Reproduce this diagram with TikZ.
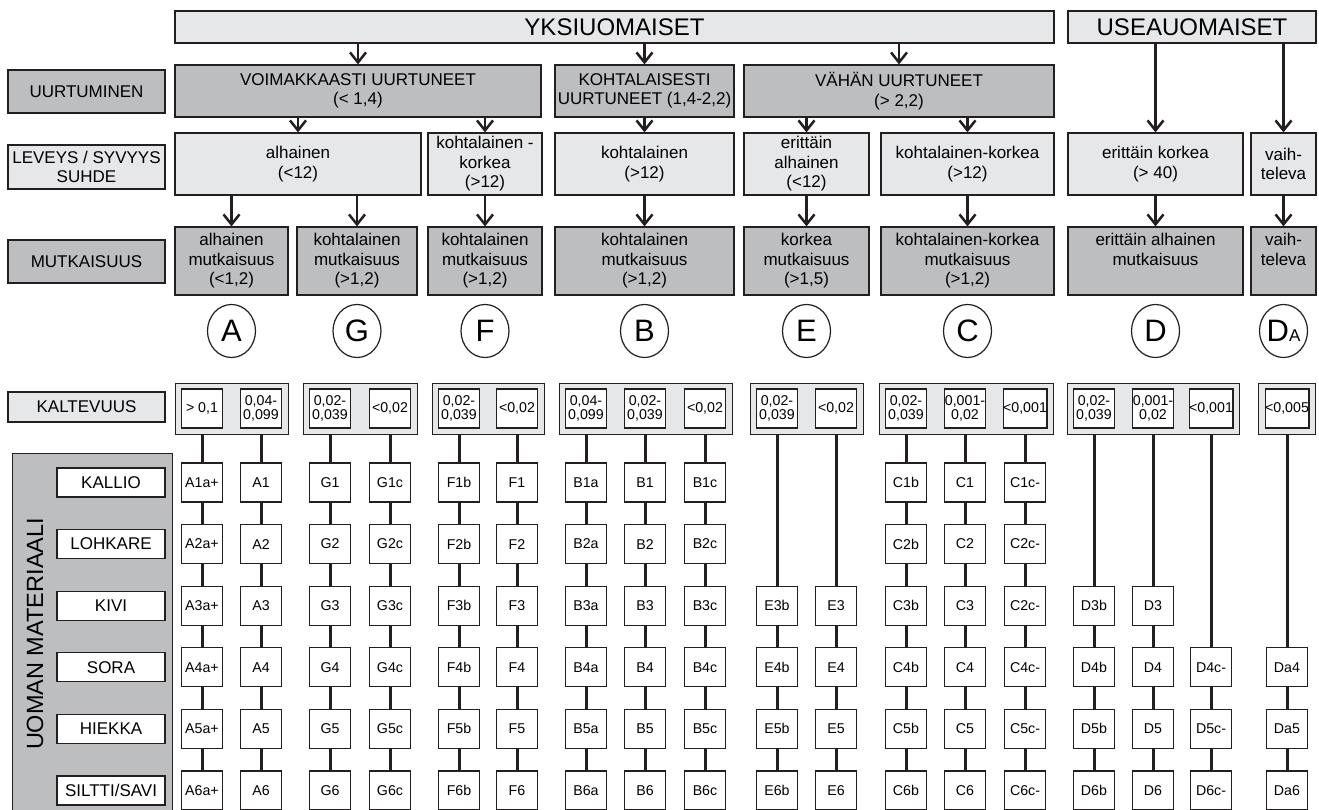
\documentclass[tikz,border=0pt]{standalone}
\usepackage{fontspec}
\setmainfont{Liberation Sans}
\usetikzlibrary{arrows.meta, shapes.geometric, fit, backgrounds}
\definecolor{cdark}{HTML}{BCBEC0}
\definecolor{clight}{HTML}{E6E7E8}
\definecolor{cline}{HTML}{231F20}
\tikzset{
  every picture/.style={line width=1.2pt},
  box/.style={draw=cline, fill=#1, align=center, inner sep=1pt, font=\fontsize{17}{19.5}\selectfont},
  box/.default=clight,
  title/.style={box, font=\fontsize{24}{26}\selectfont},
  side/.style={box=#1, minimum width=157pt},
  side/.default=clight,
  cell/.style={draw=cline, fill=white, minimum width=41pt, minimum height=39pt, inner sep=0pt, align=center, font=\fontsize{14.2}{14}\selectfont},
  matlbl/.style={draw=cline, fill=white, minimum width=108pt, minimum height=29pt, inner sep=0pt, font=\fontsize{17}{18}\selectfont},
  grp/.style={draw=cline, fill=clight, inner xsep=6pt, inner ysep=5.5pt},
  letter/.style={ellipse, draw=cline, minimum width=48pt, minimum height=53pt, inner sep=0pt, font=\fontsize{31}{31}\selectfont},
  arr/.style={draw=cline, line width=2.5pt, -{Straight Barb[length=10pt, width=16pt]}},
  link/.style={draw=cline, line width=3pt},
}

\begin{document}
\begin{tikzpicture}[x=1pt, y=-1pt]
  \useasboundingbox (0,0) rectangle (1319,810);
  \clip (0,0) rectangle (1319,810);
  % channel type
  \node[title, minimum width=879pt, minimum height=32pt] (yksi) at (614.5,27) {YKSIUOMAISET};
  \node[title, minimum width=248pt, minimum height=32pt] (usea) at (1192,27) {USEAUOMAISET};
  % row labels
  \node[side=cdark, minimum height=43pt] (uurt) at (86.5,91.5) {UURTUMINEN};
  \node[side, minimum height=44pt] (levs) at (86.5,167) {LEVEYS / SYVYYS\\SUHDE};
  \node[side=cdark, minimum height=43pt] (mutk) at (86.5,261.5) {MUTKAISUUS};
  \node[side, minimum height=30pt] (kalt) at (86.5,407) {KALTEVUUS};
  % incision
  \node[box=cdark, minimum width=366pt, minimum height=52pt] (voim) at (358,91) {VOIMAKKAASTI UURTUNEET\\(< 1,4)};
  \node[box=cdark, minimum width=179pt, minimum height=52pt] (koht) at (644.5,91) {KOHTALAISESTI\\UURTUNEET (1,4-2,2)};
  \node[box=cdark, minimum width=310pt, minimum height=52pt] (vahan) at (899,91) {VÄHÄN UURTUNEET\\(> 2,2)};
  % width / depth ratio
  \node[box, minimum width=246pt, minimum height=62pt] (lA) at (298,164) {alhainen\\(<12)};
  \node[box, minimum width=114pt, minimum height=62pt] (lF) at (485,164) {kohtalainen -\\korkea\\(>12)};
  \node[box, minimum width=179pt, minimum height=62pt] (lB) at (644.5,164) {kohtalainen\\(>12)};
  \node[box, minimum width=125pt, minimum height=62pt] (lE) at (806.5,164) {erittäin\\alhainen\\(<12)};
  \node[box, minimum width=173pt, minimum height=62pt] (lC) at (967.5,164) {kohtalainen-korkea\\(>12)};
  \node[box, minimum width=175pt, minimum height=62pt] (lD) at (1155.5,164) {erittäin korkea\\(> 40)};
  \node[box, minimum width=65pt, minimum height=62pt] (lDa) at (1283.5,164) {vaih-\\televa};
  % sinuosity
  \node[box=cdark, minimum width=113pt, minimum height=68pt] (mA) at (231.5,261) {alhainen\\mutkaisuus\\(<1,2)};
  \node[box=cdark, minimum width=120pt, minimum height=68pt] (mG) at (357,261) {kohtalainen\\mutkaisuus\\(>1,2)};
  \node[box=cdark, minimum width=114pt, minimum height=68pt] (mF) at (485,261) {kohtalainen\\mutkaisuus\\(>1,2)};
  \node[box=cdark, minimum width=179pt, minimum height=68pt] (mB) at (644.5,261) {kohtalainen\\mutkaisuus\\(>1,2)};
  \node[box=cdark, minimum width=125pt, minimum height=68pt] (mE) at (806.5,261) {korkea\\mutkaisuus\\(>1,5)};
  \node[box=cdark, minimum width=173pt, minimum height=68pt] (mC) at (967.5,261) {kohtalainen-korkea\\mutkaisuus\\(>1,2)};
  \node[box=cdark, minimum width=175pt, minimum height=68pt] (mD) at (1155.5,261) {erittäin alhainen\\mutkaisuus\\\phantom{(}};
  \node[box=cdark, minimum width=65pt, minimum height=68pt] (mDa) at (1283.5,261) {vaih-\\televa\\\phantom{(}};
  \foreach \a/\b in {yksi/voim, yksi/koht, yksi/vahan, usea/lD, usea/lDa, voim/lA, voim/lF, koht/lB, vahan/lE, vahan/lC,
                     lA/mA, lA/mG, lF/mF, lB/mB, lE/mE, lC/mC, lD/mD, lDa/mDa}
    \draw[arr] (\a.south -| \b.north) -- (\b.north);
  % channel classes
  \foreach \k/\x/\t in {A/231.5/A, G/357/G, F/485/F, B/644.5/B, E/806.5/E, C/967.5/C, D/1155.5/D}
    \node[letter] (k\k) at (\x,331) {\t};
  \node[letter] (kDa) at (1283.5,331) {D\fontsize{17}{17}\selectfont A};
  % slope
  \foreach \c/\x/\s in {a1/202/{> 0,1}, a2/261/{0,04-\\0,099}, g1/330/{0,02-\\0,039}, g2/390/{<0,02},
                        f1/459/{0,02-\\0,039}, f2/517/{<0,02}, b1/586/{0,04-\\0,099}, b2/645/{0,02-\\0,039}, b3/705/{<0,02},
                        e1/777/{0,02-\\0,039}, e2/836/{<0,02}, c1/906/{0,02-\\0,039}, c2/965/{0,001-\\0,02}, c3/1025/{<0,001},
                        d1/1094/{0,02-\\0,039}, d2/1153/{0,001-\\0,02}, d3/1211/{<0,001}, da/1287/{<0,005}}
    \node[cell] (s\c) at (\x,408.5) {\s};
  % bed material
  \node[box=cdark, anchor=north west, minimum width=160pt, minimum height=380pt] (panel) at (12,453) {};
  \node[rotate=90, font=\fontsize{23.5}{23.5}\selectfont] (uoman) at (35,634) {UOMAN MATERIAALI};
  \foreach \r/\t in {1/KALLIO, 2/LOHKARE, 3/KIVI, 4/SORA, 5/HIEKKA, 6/{SILTTI/SAVI}}
    \node[matlbl] (mat\r) at (111,{482.5+61.6*(\r-1)}) {\t};
  \foreach \c/\x/\first/\pre/\suf in {a1/202/1/A/a+, a2/261/1/A/{}, g1/330/1/G/{}, g2/390/1/G/c, f1/459/1/F/b, f2/517/1/F/{},
                                      b1/586/1/B/a, b2/645/1/B/{}, b3/705/1/B/c, e1/777/3/E/b, e2/836/3/E/{},
                                      c1/906/1/C/b, c2/965/1/C/{}, d1/1094/3/D/b, d2/1153/3/D/{}, d3/1211/4/D/c-, da/1287/4/Da/{}}
    \foreach \r in {\first,...,6}
      \node[cell] (\c-\r) at (\x,{482.5+61.6*(\r-1)}) {\pre\r\suf};
  \foreach \r/\t in {1/C1c-, 2/C2c-, 3/C2c-, 4/C4c-, 5/C5c-, 6/C6c-}
    \node[cell] (c3-\r) at (1025,{482.5+61.6*(\r-1)}) {\t};
  \begin{scope}[on background layer]
    \fill[white] (0,0) rectangle (1319,810);
    \foreach \c in {a1, a2, g1, g2, f1, f2, b1, b2, b3, e1, e2, c1, c2, c3, d1, d2, d3, da}
      \draw[link] (s\c) -- (\c-6);
    \foreach \g/\fst/\lst in {A/a1/a2, G/g1/g2, F/f1/f2, B/b1/b3, E/e1/e2, C/c1/c3, D/d1/d3, Da/da/da}
      \node[grp, fit=(s\fst)(s\lst)] (grp\g) {};
  \end{scope}
\end{tikzpicture}
\end{document}
